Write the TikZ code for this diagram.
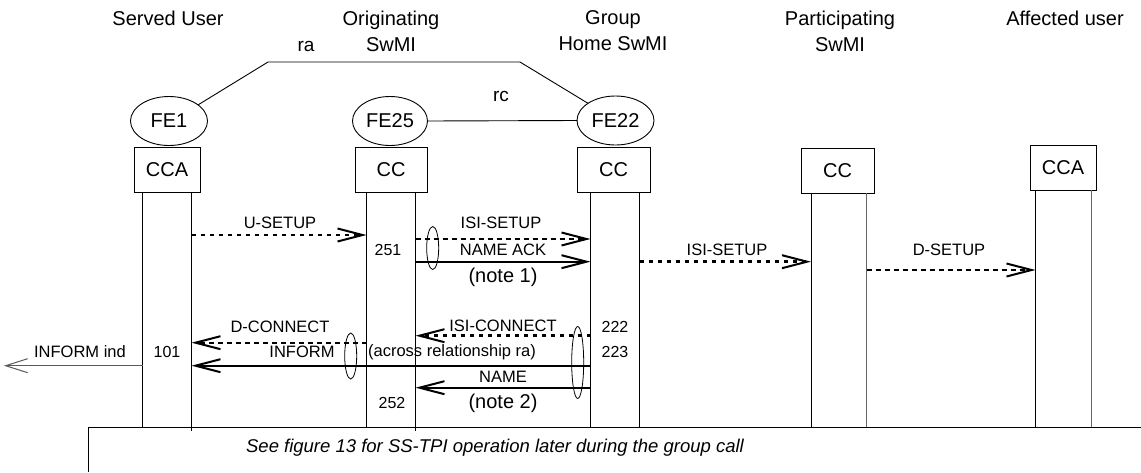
\documentclass[tikz,border=0pt]{standalone}
\usepackage{fontspec}
\setmainfont{Liberation Sans}
\usetikzlibrary{arrows.meta,shapes.geometric}
\begin{document}
\begin{tikzpicture}[x=1pt,y=-1pt,
  every node/.style={inner sep=0pt, outer sep=0pt},
  hdr/.style={align=center, font=\fontsize{20}{26}\selectfont},
  ent/.style={draw, line width=1pt, minimum height=45pt, font=\fontsize{20}{24}\selectfont},
  fe/.style={ellipse, draw, line width=0.9pt, minimum width=77pt, minimum height=49pt, font=\fontsize{20}{24}\selectfont},
  life/.style={line width=1pt},
  lbl/.style={font=\fontsize{16.5}{20}\selectfont},
  notetxt/.style={font=\fontsize{20}{24}\selectfont},
  num/.style={font=\fontsize{16}{20}\selectfont},
  tipv/.style={-{Straight Barb[length=25pt,width=13pt,line width=2pt]}},
  dthick/.style={tipv, line width=2.6pt, dash pattern=on 4pt off 5pt},
  dthin/.style={tipv, line width=1.6pt, dash pattern=on 5pt off 4pt},
  solidmsg/.style={tipv, line width=2pt},
  grp/.style={ellipse, draw, line width=0.8pt, minimum width=12pt},
]
\useasboundingbox (0,0) rectangle (1141,472);

% headers
\node[hdr] (hS) at (168,18) {Served User};
\node[hdr] (hO) at (391,31) {Originating\\SwMI};
\node[hdr] (hG) at (613,31) {Group\\Home SwMI};
\node[hdr] (hP) at (840,31) {Participating\\SwMI};
\node[hdr] (hA) at (1065,18) {Affected user};

% functional entities
\node[fe] (fe1) at (169,121) {FE1};
\node[fe, minimum width=75pt] (fe25) at (390,121) {FE25};
\node[fe] (fe22) at (615.5,120.5) {FE22};

\coordinate (ra1) at (268,62);
\coordinate (ra2) at (520,62);
\draw[line width=0.9pt] (fe1.29) -- (ra1) -- (ra2) -- (fe22.148);
\node[lbl, font=\fontsize{19}{22}\selectfont] (ralbl) at (306,46) {ra};
\draw[line width=0.9pt] (fe25.east) -- (fe22.west);
\node[lbl, font=\fontsize{19}{22}\selectfont] (rclbl) at (501,96) {rc};

% boxes
\node[ent, minimum width=66pt] (bS) at (167,169.5) {CCA};
\node[ent, minimum width=72pt] (bO) at (391,169.5) {CC};
\node[ent, minimum width=73pt] (bG) at (613.5,169.5) {CC};
\node[ent, minimum width=73pt] (bP) at (837.5,171) {CC};
\node[ent, minimum width=66pt] (bA) at (1063,167.5) {CCA};

% lifelines
\coordinate (S1t) at (142.5,192); \coordinate (S1b) at (142.5,427);
\coordinate (S2t) at (191.5,192); \coordinate (S2b) at (191.5,431);
\coordinate (O1t) at (366.5,192); \coordinate (O1b) at (366.5,427);
\coordinate (O2t) at (415.5,192); \coordinate (O2b) at (415.5,431);
\coordinate (G1t) at (590.5,192); \coordinate (G1b) at (590.5,427);
\coordinate (G2t) at (639.5,192); \coordinate (G2b) at (639.5,427);
\coordinate (P1t) at (811,193.3); \coordinate (P1b) at (811,427);
\coordinate (P2t) at (866.5,193.3); \coordinate (P2b) at (866.5,427);
\coordinate (A1t) at (1035.5,190); \coordinate (A1b) at (1035.5,427);
\coordinate (A2t) at (1091,190); \coordinate (A2b) at (1091,427);
\foreach \l in {S1,S2,O1,O2,G1,G2,P1,A1}
  \draw[life] (\l t) -- (\l b);
\foreach \l in {P2,A2}
  \draw[life, black!60] (\l t) -- (\l b);

% message end points
\coordinate (m1a) at (191.5,235);   \coordinate (m1b) at (366.5,235);
\coordinate (m2a) at (415.5,239);   \coordinate (m2b) at (590.5,239);
\coordinate (m3a) at (415.5,261.7); \coordinate (m3b) at (590.5,261.7);
\coordinate (m4a) at (639.5,261.7); \coordinate (m4b) at (811,261.7);
\coordinate (m5a) at (866.5,270);   \coordinate (m5b) at (1035.5,270);
\coordinate (m6a) at (590.5,335.7); \coordinate (m6b) at (415.5,335.7);
\coordinate (m7a) at (366.5,342.7); \coordinate (m7b) at (191.5,342.7);
\coordinate (m8a) at (590.5,365.7); \coordinate (m8b) at (191.5,365.7);
\coordinate (m9a) at (590.5,387.7); \coordinate (m9b) at (415.5,387.7);
\coordinate (m10a) at (142.5,365.7); \coordinate (m10b) at (4,365.7);

% messages
\draw[dthick] (m1a) -- (m1b);
\node[lbl] (l1) at (280,223) {U-SETUP};

\draw[dthin] (m2a) -- (m2b);
\node[lbl] (l2) at (501,223) {ISI-SETUP};

\draw[solidmsg] (m3a) -- (m3b);
\node[lbl] (l3) at (503,250) {NAME ACK};
\node[notetxt] (n1) at (503,277) {(note 1)};
\node[num] (n251) at (388,250) {251};
\node[grp, minimum height=43pt] (g1) at (432.7,248) {};

\draw[dthick] (m4a) -- (m4b);
\node[lbl] (l4) at (727,250) {ISI-SETUP};

\draw[dthin, line width=1.3pt] (m5a) -- (m5b);
\node[lbl] (l5) at (949,250) {D-SETUP};

\draw[dthick] (m6a) -- (m6b);
\node[lbl] (l6) at (503,326) {ISI-CONNECT};
\node[num] (n222) at (615,327) {222};

\draw[dthin] (m7a) -- (m7b);
\node[lbl] (l7) at (280,327) {D-CONNECT};

\draw[solidmsg] (m8a) -- (m8b);
\node[lbl] (l8) at (302,352) {INFORM};
\node[lbl] (l8b) at (452,352) {(across relationship ra)};
\node[num] (n101) at (167,352) {101};
\node[num] (n223) at (615,352) {223};
\node[grp, minimum height=46pt] (g2) at (350.7,356) {};
\node[grp, minimum height=72pt] (g3) at (577.7,362.5) {};

\draw[solidmsg] (m9a) -- (m9b);
\node[lbl] (l9) at (503,377) {NAME};
\node[notetxt] (n2) at (503,403) {(note 2)};
\node[num] (n252) at (392,403) {252};

\draw[line width=1pt, gray!70!black, -{Straight Barb[length=22pt,width=14pt,line width=1pt]}] (m10a) -- (m10b);
\node[lbl] (l10) at (80,352) {INFORM ind};

% bottom box
\coordinate (bb1) at (88,472);
\coordinate (bb2) at (88,427);
\coordinate (bb3) at (1141,427);
\draw[line width=1pt] (bb1) -- (bb2) -- (bb3);
\node[font=\fontsize{18.5}{22}\selectfont\itshape] (foot) at (495,448) {See figure 13 for SS-TPI operation later during the group call};
\end{tikzpicture}
\end{document}
